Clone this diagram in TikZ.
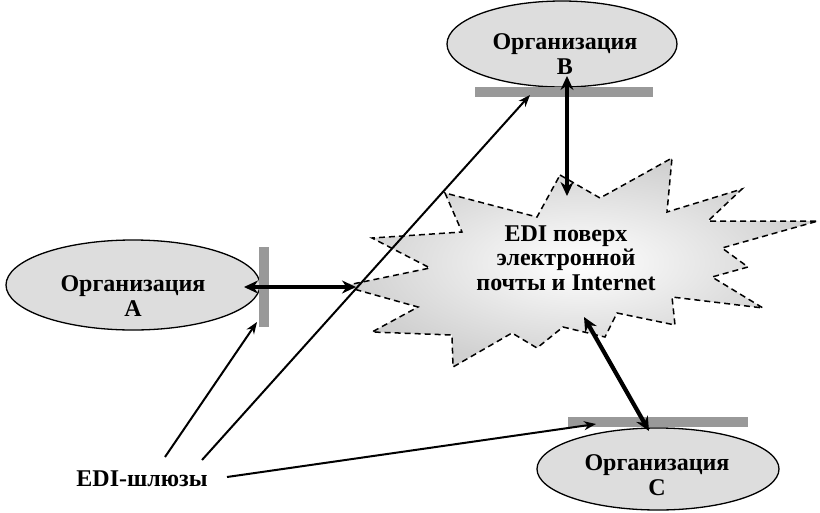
\documentclass[tikz,border=0pt]{standalone}
\usepackage{fontspec}
\setmainfont{Liberation Serif}
\usetikzlibrary{shapes.geometric,arrows.meta}
\definecolor{orgfill}{RGB}{221,221,221}
\definecolor{bargray}{RGB}{153,153,153}
\definecolor{cloudout}{RGB}{208,208,208}
\begin{document}
\begin{tikzpicture}[x=1pt,y=-1pt,
  org/.style={ellipse,draw=black,line width=1.3pt,fill=orgfill,inner sep=0pt},
  lbl/.style={font=\fontsize{24}{24.5}\selectfont\bfseries,align=center,inner sep=0pt},
  bar/.style={rectangle,fill=bargray,draw=none,inner sep=0pt},
  dbl/.style={line width=4.2pt,{Stealth[length=14pt,width=13pt]}-{Stealth[length=14pt,width=13pt]}},
  thin/.style={line width=2pt,-{Stealth[length=12pt,width=9pt]}},
  cloudline/.style={draw=black,line width=1.5pt,dash pattern=on 6pt off 4pt,line join=miter},
]
\fill[white] (0,0) rectangle (820,512);
\useasboundingbox (0,0) rectangle (820,512);

% organisations
\node[org,minimum width=254pt,minimum height=90pt] (orgA) at (133,285) {};
\node[lbl] (orgAt) at (133,296) {Организация\\А};
\node[org,minimum width=230pt,minimum height=86pt] (orgB) at (562,44) {};
\node[lbl] (orgBt) at (565,54) {Организация\\В};
\node[org,minimum width=242pt,minimum height=82pt] (orgC) at (658,469) {};
\node[lbl] (orgCt) at (657,475) {Организация\\С};

% gateway bars
\node[bar,minimum width=10pt,minimum height=80pt] (barA) at (264,287) {};
\node[bar,minimum width=178pt,minimum height=10pt] (barB) at (564,92) {};
\node[bar,minimum width=180pt,minimum height=10pt] (barC) at (658,422) {};

% cloud
\shade[inner color=white,outer color=cloudout]
  (560,175) -- (600,198) -- (672,158) -- (667,212) -- (742,189) -- (708,221)
  -- (818,221) -- (722,248) -- (748,267) -- (712,277) -- (763,308) -- (672,297)
  -- (675,325) -- (617,313) -- (605,337) -- (563,327) -- (537,348) -- (512,333)
  -- (453,367) -- (452,335) -- (372,332) -- (418,307) -- (343,286) -- (430,268)
  -- (372,238) -- (462,232) -- (445,193) -- (537,217) -- cycle;
\draw[cloudline]
  (560,175) -- (600,198) -- (672,158) -- (667,212) -- (742,189) -- (708,221)
  -- (818,221) -- (722,248) -- (748,267) -- (712,277) -- (763,308) -- (672,297)
  -- (675,325) -- (617,313) -- (605,337) -- (563,327) -- (537,348) -- (512,333)
  -- (453,367) -- (452,335) -- (372,332) -- (418,307) -- (343,286) -- (430,268)
  -- (372,238) -- (462,232) -- (445,193) -- (537,217) -- cycle;
\node[lbl] (net) at (566,258) {EDI поверх\\электронной\\почты и Internet};

% label
\node[lbl] (gw) at (142,479) {EDI-шлюзы};

% connection points
\coordinate (aOrg) at (244,287);
\coordinate (aNet) at (356,287);
\coordinate (bOrg) at (567,76);
\coordinate (bNet) at (567,196);
\coordinate (cNet) at (584,317);
\coordinate (cOrg) at (649,431);
\coordinate (g1) at (165,457);
\coordinate (g2) at (202,460);
\coordinate (g3) at (227,477);
\coordinate (tA) at (257,322);
\coordinate (tB) at (530,95);
\coordinate (tC) at (596,424);

% arrows
\draw[dbl] (aOrg) -- (aNet);
\draw[dbl] (bOrg) -- (bNet);
\draw[dbl] (cNet) -- (cOrg);
\draw[thin] (g1) -- (tA);
\draw[thin] (g2) -- (tB);
\draw[thin] (g3) -- (tC);
\end{tikzpicture}
\end{document}
